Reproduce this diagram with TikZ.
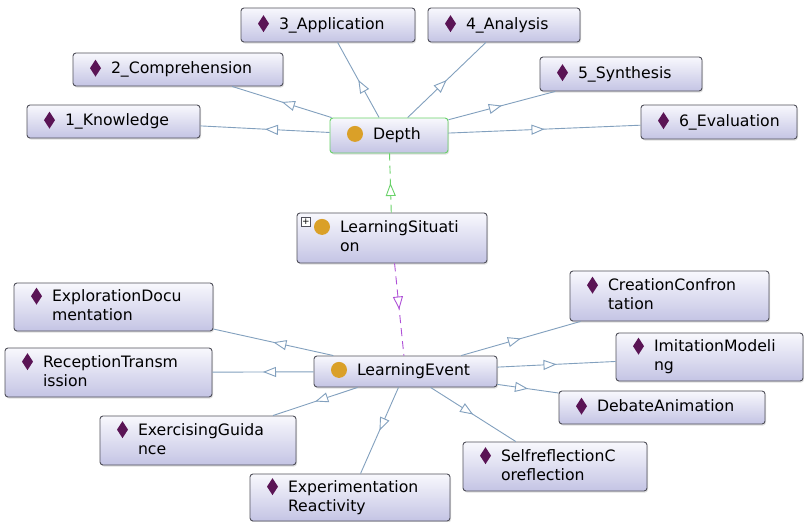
\documentclass[tikz,border=0pt]{standalone}
\usepackage{fontspec}
\setmainfont{DejaVu Sans}
\usepackage{graphicx}
\usetikzlibrary{arrows.meta,decorations.markings,shadows}
\definecolor{dpurple}{RGB}{90,20,85}
\definecolor{gold}{RGB}{218,160,40}
\definecolor{edgeblue}{RGB}{130,160,190}
\definecolor{boxtop}{RGB}{248,248,253}
\definecolor{boxbot}{RGB}{196,196,228}
\definecolor{boxdraw}{RGB}{80,80,90}
\definecolor{depthgreen}{RGB}{105,210,105}
\definecolor{violetdash}{RGB}{175,80,215}

\newcommand{\indicon}{\tikz[baseline={(0pt,-5.5pt)},sharp corners]\fill[dpurple,sharp corners] (0pt,8.5pt)--(5.5pt,0pt)--(0pt,-8.5pt)--(-5.5pt,0pt)--cycle;}
\newcommand{\clsicon}{\tikz[baseline={(0pt,-5.5pt)},sharp corners]\fill[gold] (0pt,0pt) circle (8pt);}
\newcommand{\onel}[2]{\begin{tabular}{@{}l@{\hspace{10pt}}l@{}}#1 & #2\end{tabular}}
\newcommand{\twol}[3]{\begin{tabular}{@{}l@{\hspace{10pt}}l@{}}#1 & #2\\ & #3\end{tabular}}
\newcommand{\bx}[7][]{%
  \pgfmathsetmacro{\bxw}{#5-#3}\pgfmathsetmacro{\bxh}{#6-#4}%
  \pgfmathsetmacro{\bxt}{#5-#3-34}%
  \node[box,#1,minimum width=\bxw pt,minimum height=\bxh pt,text width=\bxt pt] (#2) at ({(#3+#5)/2},{(#4+#6)/2}) {#7};}

\tikzset{
  box/.style={draw=boxdraw, line width=0.9pt, rounded corners=3pt,
    top color=boxtop, bottom color=boxbot, inner xsep=17pt, inner ysep=0pt,
    align=left, font=\fontsize{15.7}{19}\selectfont,
    drop shadow={shadow xshift=1pt, shadow yshift=-1.5pt, opacity=0.25}},
  depthbox/.style={draw=depthgreen},
  rel/.style={draw=edgeblue, line width=0.9pt, postaction={decorate},
    decoration={markings, mark=at position 0.5 with {\arrow[edgeblue]{Triangle[open,length=13pt,width=10pt,fill=white]}}}},
  gdash/.style={draw=depthgreen, line width=0.9pt, dash pattern=on 8pt off 5pt, postaction={decorate},
    decoration={markings, mark=at position 0.5 with {\arrow[depthgreen]{Triangle[open,length=13pt,width=10pt,fill=white]}}}},
  vdash/.style={draw=violetdash, line width=0.9pt, dash pattern=on 8pt off 5pt, postaction={decorate},
    decoration={markings, mark=at position 0.5 with {\arrow[violetdash]{Triangle[open,length=13pt,width=10pt,fill=white]}}}},
  plusbox/.style={draw=boxdraw, fill=white, line width=0.6pt, minimum size=9pt, inner sep=0pt, font=\fontsize{9}{9}\selectfont}
}

\begin{document}
\begin{tikzpicture}[x=1pt,y=-1pt]
\useasboundingbox[fill=white] (0,0) rectangle (804,522);

\bx{k1}{27}{105}{200}{138}{\onel{\indicon}{1\_Knowledge}}
\bx{k2}{73}{53}{283}{86}{\onel{\indicon}{2\_Comprehension}}
\bx{k3}{241}{8}{415}{42}{\onel{\indicon}{3\_Application}}
\bx{k4}{428}{8}{580}{42}{\onel{\indicon}{4\_Analysis}}
\bx{k5}{540}{57}{702}{91}{\onel{\indicon}{5\_Synthesis}}
\bx{k6}{641}{105}{797}{139}{\onel{\indicon}{6\_Evaluation}}
\bx[depthbox]{depth}{330}{118}{448}{153}{\onel{\clsicon}{Depth}}
\bx{ls}{297}{213}{487}{263}{\twol{\clsicon}{LearningSituati}{on}}
\node[plusbox] (plus) at (306,222) {+};

\bx{ed}{14}{283}{213}{331}{\twol{\indicon}{ExplorationDocu}{mentation}}
\bx{rt}{5}{348}{212}{397}{\twol{\indicon}{ReceptionTransm}{ission}}
\bx{cc}{570}{271}{769}{321}{\twol{\indicon}{CreationConfron}{tation}}
\bx{im}{616}{333}{803}{381}{\twol{\indicon}{ImitationModeli}{ng}}
\bx{le}{314}{356}{497}{387}{\onel{\clsicon}{LearningEvent}}
\bx{da}{559}{391}{765}{424}{\onel{\indicon}{DebateAnimation}}
\bx{eg}{100}{416}{296}{465}{\twol{\indicon}{ExercisingGuida}{nce}}
\bx{sr}{463}{442}{647}{491}{\twol{\indicon}{SelfreflectionC}{oreflection}}
\bx{er}{250}{474}{450}{521}{\twol{\indicon}{Experimentation}{Reactivity}}

\foreach \t in {k1,k2,k3,k4,k5,k6} \draw[rel] (depth) -- (\t);
\foreach \t in {ed,rt,eg,er,sr,da,im,cc} \draw[rel] (le) -- (\t);
\draw[gdash] (ls) -- (depth);
\draw[vdash] (ls) -- (le);
\end{tikzpicture}
\end{document}
